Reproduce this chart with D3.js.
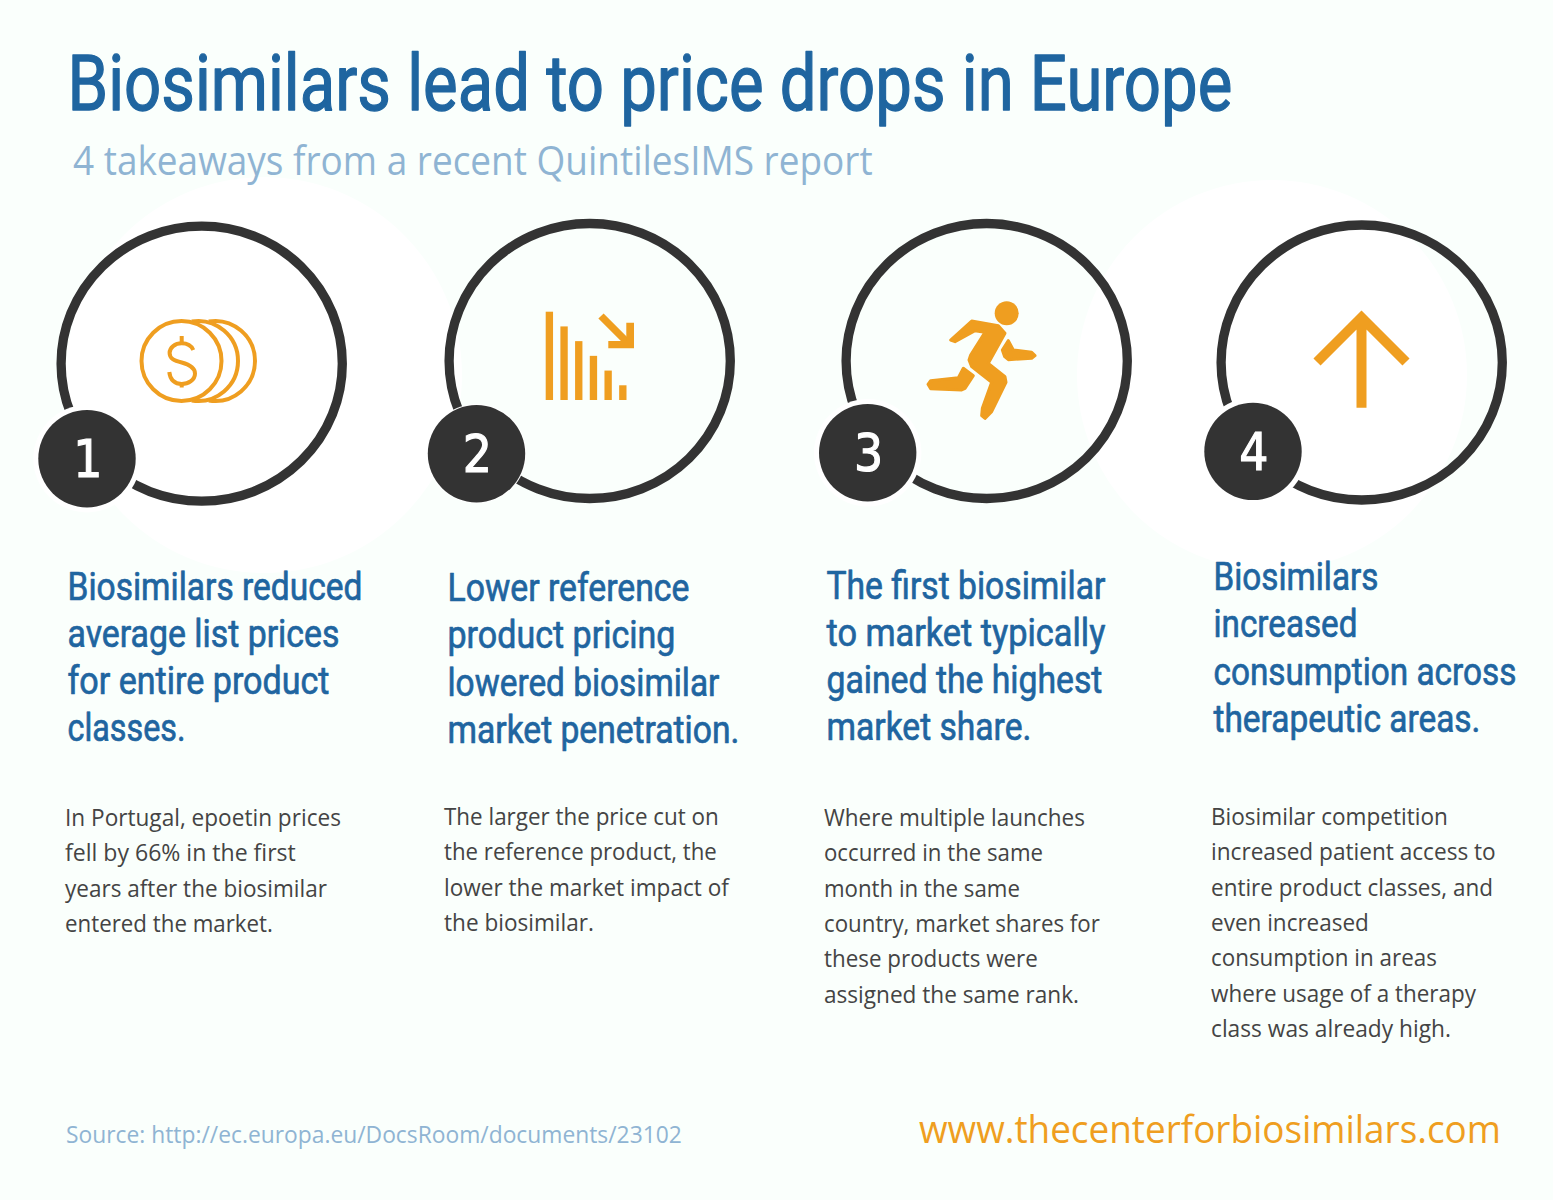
<!DOCTYPE html>
<html><head><meta charset="utf-8">
<script src="https://cdn.jsdelivr.net/npm/d3@7/dist/d3.min.js"></script>
<style>html,body{margin:0;padding:0;background:#fafffc}svg{display:block}</style>
</head><body>
<script>
const titleText = "Biosimilars lead to price drops in Europe";
const subtitleText = "4 takeaways from a recent QuintilesIMS report";
const sourceText = "Source: http://ec.europa.eu/DocsRoom/documents/23102";
const urlText = "www.thecenterforbiosimilars.com";
const numbers = ["1","2","3","4"];
const headings = [
 ["Biosimilars reduced","average list prices","for entire product","classes."],
 ["Lower reference","product pricing","lowered biosimilar","market penetration."],
 ["The first biosimilar","to market typically","gained the highest","market share."],
 ["Biosimilars","increased","consumption across","therapeutic areas."]
];
const bodies = [
 ["In Portugal, epoetin prices","fell by 66% in the first","years after the biosimilar","entered the market."],
 ["The larger the price cut on","the reference product, the","lower the market impact of","the biosimilar."],
 ["Where multiple launches","occurred in the same","month in the same","country, market shares for","these products were","assigned the same rank."],
 ["Biosimilar competition","increased patient access to","entire product classes, and","even increased","consumption in areas","where usage of a therapy","class was already high."]
];
const iconBarValues = [6,5,4,3,2,1];

// layout
const ORANGE="#ef9e20", BLUE="#1f65a0", PALE="#8fb4d3", DARK="#333333", BG="#fafffc";
const rings=[[201.7,363.7],[589.7,361],[986.7,361],[1361.7,362.5]];
const discs=[[87,458.7,5],[476.5,453.7,1],[867.7,452.8,5],[1253,451.4,5]];
const headX=[67.5,447.5,826.5,1213.5], headY=[599.5,601,598.5,590];
const bodyX=[65,444,824,1211], bodyY=[826,825,826,825];
const headEnd=[[363,340,330,186],[690,676,720,740],[1106,1106,1103,1032],[1379,1358,1517,1481]];
const bodyEnd=[[341,296,327,273],[719,717,729,594],[1085,1043,1020,1100,1038,1079],[1448,1496,1493,1369,1437,1476,1451]];

const svg=d3.select("body").append("svg").attr("width",1553).attr("height",1200).attr("viewBox","0 0 1553 1200");
svg.append("rect").attr("width",1553).attr("height",1200).attr("fill",BG);
svg.selectAll("circle.glow").data([[264,375,198],[1272,375,195]]).join("circle").attr("class","glow")
 .attr("cx",d=>d[0]).attr("cy",d=>d[1]).attr("r",d=>d[2]).attr("fill","#ffffff");

function line(g,text,x,y,font,size,weight,fill,sx,bold){
 const t=g.append("text").text(text).attr("transform",`translate(${x},${y}) scale(${sx},1)`)
  .attr("font-family",font).attr("font-size",size).attr("font-weight",weight).attr("fill",fill);
 if(bold) t.attr("stroke",fill).attr("stroke-width",bold).attr("stroke-linejoin","round");
 return t;
}
function fitScale(text,font,size,weight,target){
 const t=svg.append("text").text(text).attr("font-family",font).attr("font-size",size).attr("font-weight",weight);
 const w=t.node().getComputedTextLength(); t.remove(); return target/w;
}
const COND="'Liberation Sans Narrow','Roboto'", SANS="'Open Sans'";
const root=svg.append("g");
line(root,titleText,67.5,110,COND,77,400,BLUE,fitScale(titleText,COND,77,400,1165),1.3);
line(root,subtitleText,73,175,SANS,40,400,PALE,fitScale(subtitleText,SANS,40,400,800));
line(root,sourceText,66,1143,SANS,23,400,PALE,fitScale(sourceText,SANS,23,400,616));
line(root,urlText,919,1143,SANS,38,400,ORANGE,fitScale(urlText,SANS,38,400,582));

// rings and number discs
svg.append("g").selectAll("ellipse").data(rings).join("ellipse")
 .attr("cx",d=>d[0]).attr("cy",d=>d[1]).attr("rx",140.6).attr("ry",137.5)
 .attr("fill","none").attr("stroke",DARK).attr("stroke-width",9.3);
const dg=svg.append("g").selectAll("g").data(discs).join("g").attr("transform",d=>`translate(${d[0]},${d[1]})`);
dg.append("circle").attr("r",d=>48.7+d[2]).attr("fill","#ffffff");
dg.append("circle").attr("r",48.7).attr("fill",DARK);
dg.append("text").text((d,i)=>numbers[i]).attr("text-anchor","middle")
 .attr("transform","translate(0.8,18.5) scale(0.9,1)")
 .attr("font-family","'DejaVu Sans'").attr("font-size",51).attr("fill","#ffffff")
 .attr("stroke","#ffffff").attr("stroke-width",1.2);

// icon 1 coins
const ic1=svg.append("g").attr("fill","none").attr("stroke",ORANGE).attr("stroke-width",4);
[215,198].forEach(cx=>{
 const a=d3.arc().innerRadius(40).outerRadius(40).startAngle(-0.05*Math.PI).endAngle(1.05*Math.PI);
 ic1.append("path").attr("d",a()).attr("transform",`translate(${cx},361)`);
});
ic1.append("circle").attr("cx",181.5).attr("cy",361).attr("r",40).attr("fill","#fff");
ic1.append("path").attr("d","M193.3,350 C191,345 186.5,343.3 181.7,343.3 C175,343.3 169.6,347.5 169.6,353 C169.6,358.5 174,360.5 181.7,362.5 C190,364.7 195,367.5 195,373.5 C195,380 188.5,384 181.7,384 C175,384 170,380 169.3,372");
ic1.append("path").attr("d","M181.7,336V343.3M181.7,384V387.5");

// icon 2 bars
const barX=d3.scaleBand().domain(d3.range(iconBarValues.length)).range([545.7,626.5]).paddingInner(0.5).paddingOuter(0);
const barH=d3.scaleLinear().domain([0,6]).range([400,311.7]);
svg.append("g").selectAll("rect").data(iconBarValues).join("rect")
 .attr("x",(d,i)=>barX(i)).attr("width",barX.bandwidth()).attr("y",d=>barH(d)).attr("height",d=>400-barH(d)).attr("fill",ORANGE);
svg.append("path").attr("d","M601,316L628,343").attr("stroke",ORANGE).attr("stroke-width",7.4).attr("fill","none");
svg.append("path").attr("d","M626.3,322.7H634V348.3H608.3V341H626.3Z").attr("fill",ORANGE);

// icon 3 runner (outline in 3x zoom coordinates)
const ax=p=>920+p/3, ay=p=>295+p/3;
const runnerParts=[
 [[92,135],[155,78],[235,92],[255,115],[205,205],[255,245],[258,262],[215,350],[195,370],[185,362],[187,340],[215,262],[155,215],[147,195],[152,180],[195,112],[165,107],[105,140]],
 [[130,220],[160,242],[135,280],[125,285],[32,281],[24,268],[32,257],[115,248]],
 [[265,137],[280,165],[335,172],[345,182],[335,190],[265,194],[254,185],[247,165]]
];
const rl=d3.line().x(d=>ax(d[0])).y(d=>ay(d[1])).curve(d3.curveLinearClosed);
svg.append("g").selectAll("path").data(runnerParts).join("path").attr("d",rl)
 .attr("fill",ORANGE).attr("stroke",ORANGE).attr("stroke-width",3).attr("stroke-linejoin","round");
svg.append("circle").attr("cx",1006.7).attr("cy",313.3).attr("r",12).attr("fill",ORANGE);

// icon 4 arrow
svg.append("path").attr("d","M1361.5,318V407.7M1317,362L1361.5,317.5L1406,362").attr("fill","none").attr("stroke",ORANGE).attr("stroke-width",10).attr("stroke-miterlimit",10);

// text columns, each line fitted to its measured right edge
const headG=svg.append("g"), bodyG=svg.append("g");
headings.forEach((ls,c)=>ls.forEach((s,i)=>{
 const sx=fitScale(s,COND,38,400,headEnd[c][i]-headX[c]-0.5);
 line(headG,s,headX[c],headY[c]+i*47.3,COND,38,400,BLUE,sx,0.7);
}));
bodies.forEach((ls,c)=>ls.forEach((s,i)=>{
 const sx=fitScale(s,SANS,23.5,400,bodyEnd[c][i]-bodyX[c]);
 line(bodyG,s,bodyX[c],bodyY[c]+i*35.3,SANS,23.5,400,"#444444",sx);
}));
</script>
</body></html>
